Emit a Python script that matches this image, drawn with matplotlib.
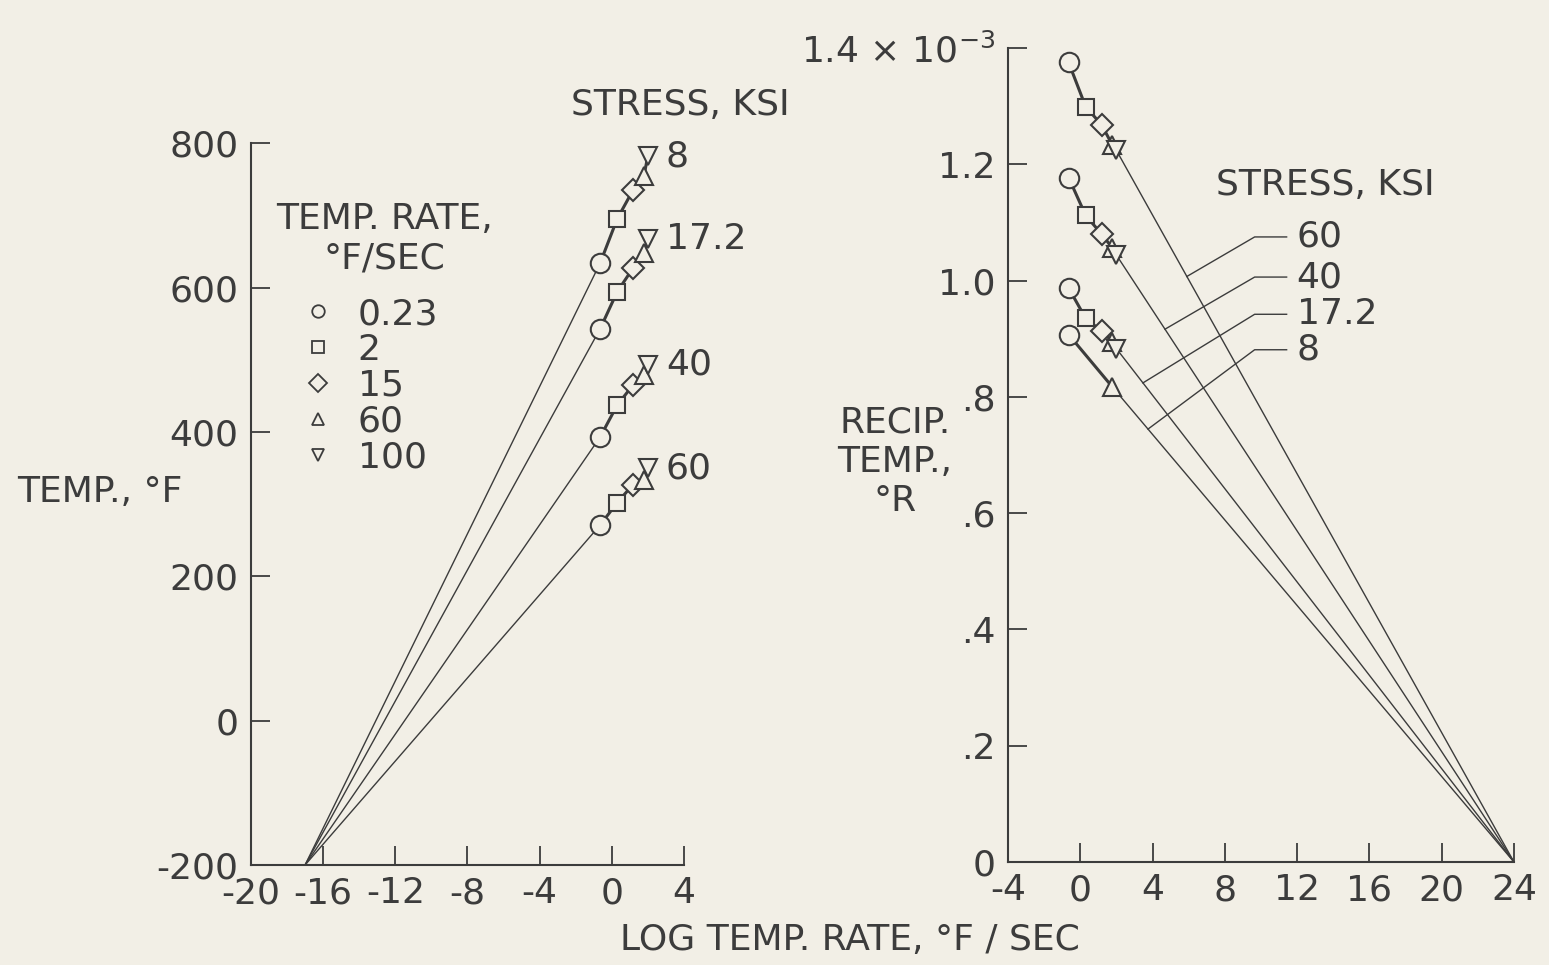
import numpy as np
import matplotlib.pyplot as plt
from matplotlib.lines import Line2D

plt.rcParams['font.family'] = ['DejaVu Sans']
plt.rcParams['axes.unicode_minus'] = False

INK = '#3c3c3c'
PAPER = '#f2efe6'

# heating rates (legend) and their log10 values on the x axis
rates = ['0.23', '2', '15', '60', '100']
log_rate = [-0.64, 0.30, 1.18, 1.78, 2.00]
stresses = ['8', '17.2', '40', '60']

# left panel: temperature, deg F
temp_f = {
    '8': [634, 695, 735, 754, 782],
    '17.2': [543, 594, 627, 648, 667],
    '40': [393, 437, 465, 479, 493],
    '60': [271, 302, 327, 334, 350],
}
# right panel: reciprocal temperature, 1e-3 / deg R
recip = {
    '8': [0.907, np.nan, np.nan, 0.817, np.nan],
    '17.2': [0.987, 0.935, 0.913, 0.895, 0.883],
    '40': [1.177, 1.112, 1.080, 1.056, 1.044],
    '60': [1.375, 1.299, 1.268, 1.233, 1.224],
}
left_focus = (-17.0, -200)
right_focus = (24.0, 0.0)

# right panel leader lines: x where leader meets the line, label height
leader_x = {'60': 5.9, '40': 4.69, '17.2': 3.47, '8': 3.75}
label_y = {'60': 1.075, '40': 1.006, '17.2': 0.942, '8': 0.881}

markers = ['o', 's', 'D', '^', 'v']
msizes = [14, 12, 11, 13, 13]
FS = 26


def style_axes(ax):
    ax.set_facecolor(PAPER)
    for side in ('top', 'right'):
        ax.spines[side].set_visible(False)
    for side in ('left', 'bottom'):
        ax.spines[side].set_color(INK)
        ax.spines[side].set_linewidth(1.5)
    ax.tick_params(direction='in', length=14, width=1.3, colors=INK, labelsize=FS)
    ax.tick_params(axis='x', pad=8)
    ax.tick_params(axis='y', pad=9)


def draw_points(ax, xs, ys):
    for x, y, m, ms in zip(xs, ys, markers, msizes):
        if np.isnan(y):
            continue
        ax.plot(x, y, marker=m, ms=ms, mfc=PAPER, mec=INK, mew=1.5,
                ls='none', zorder=3, clip_on=False)


fig = plt.figure(figsize=(15.49, 9.65), dpi=100, facecolor=PAPER)
axL = fig.add_axes([0.162, 0.1036, 0.2795, 0.748])
axR = fig.add_axes([0.6507, 0.1067, 0.3267, 0.8436])

# ---- left panel
style_axes(axL)
axL.set_xlim(-20, 4)
axL.set_ylim(-200, 800)
axL.set_xticks(range(-20, 5, 4))
axL.set_yticks(range(-200, 801, 200))
for s in stresses:
    y = temp_f[s]
    axL.plot([left_focus[0], log_rate[0]], [left_focus[1], y[0]], lw=1, color=INK)
    axL.plot(log_rate, y, lw=2.2, color=INK)
    draw_points(axL, log_rate, np.array(y, dtype=float))
    axL.annotate(s, xy=(log_rate[-1], y[-1]), xytext=(13, 0),
                 textcoords='offset points', va='center', fontsize=FS, color=INK)
axL.text(3.8, 853, 'STRESS, KSI', ha='center', va='center', fontsize=FS,
         color=INK, clip_on=False)

# legend title drawn separately so the gap above the entries can be set
fig.text(384 / 1549, 1 - 239 / 965, 'TEMP. RATE,\n°F/SEC', ha='center',
         va='center', multialignment='center', fontsize=FS, color=INK,
         linespacing=1.2)
handles = [Line2D([], [], marker=m, ms=9, mfc=PAPER, mec=INK, mew=1.3, ls='none')
           for m in markers]
leg = axL.legend(handles, rates, loc='upper left',
                 bbox_to_anchor=(300 / 1549, 1 - 297 / 965),
                 bbox_transform=fig.transFigure, frameon=False, fontsize=FS,
                 labelspacing=0.05, handletextpad=0.6, handlelength=1.0,
                 borderpad=0, borderaxespad=0)
for t in leg.get_texts():
    t.set_color(INK)

# ---- right panel
style_axes(axR)
axR.set_xlim(-4, 24)
axR.set_ylim(0, 1.4)
axR.set_xticks(range(-4, 25, 4))
yt = np.arange(0, 1.41, 0.2)
axR.set_yticks(yt)
axR.set_yticklabels(['0', '.2', '.4', '.6', '.8', '1.0', '1.2',
                     r'1.4 $\times$ 10$^{-3}$'])
for s in stresses:
    vals = np.array(recip[s], dtype=float)
    ok = ~np.isnan(vals)
    xs = np.array(log_rate)[ok]
    ys = vals[ok]
    axR.plot([right_focus[0], xs[-1]], [right_focus[1], ys[-1]], lw=1, color=INK)
    axR.plot(xs, ys, lw=2.2, color=INK)
    draw_points(axR, log_rate, vals)
    tx = leader_x[s]
    ty = np.interp(tx, [xs[-1], right_focus[0]], [ys[-1], right_focus[1]])
    axR.plot([tx, 9.65, 11.42], [ty, label_y[s], label_y[s]], lw=1, color=INK)
    axR.text(11.97, label_y[s], s, va='center', fontsize=FS, color=INK)
axR.text(13.57, 1.164, 'STRESS, KSI', ha='center', va='center', fontsize=FS, color=INK)

# ---- axis titles
fig.text(100 / 1549, 1 - 492 / 965, 'TEMP., °F', ha='center', va='center',
         fontsize=FS, color=INK)
fig.text(895 / 1549, 1 - 462 / 965, 'RECIP.\nTEMP.,\n°R', ha='center', va='center',
         fontsize=FS, color=INK, linespacing=1.2)
fig.text(850 / 1549, 1 - 940 / 965, 'LOG TEMP. RATE, °F / SEC', ha='center',
         va='center', fontsize=FS, color=INK)

fig.savefig('out.png', dpi=100, facecolor=PAPER)
